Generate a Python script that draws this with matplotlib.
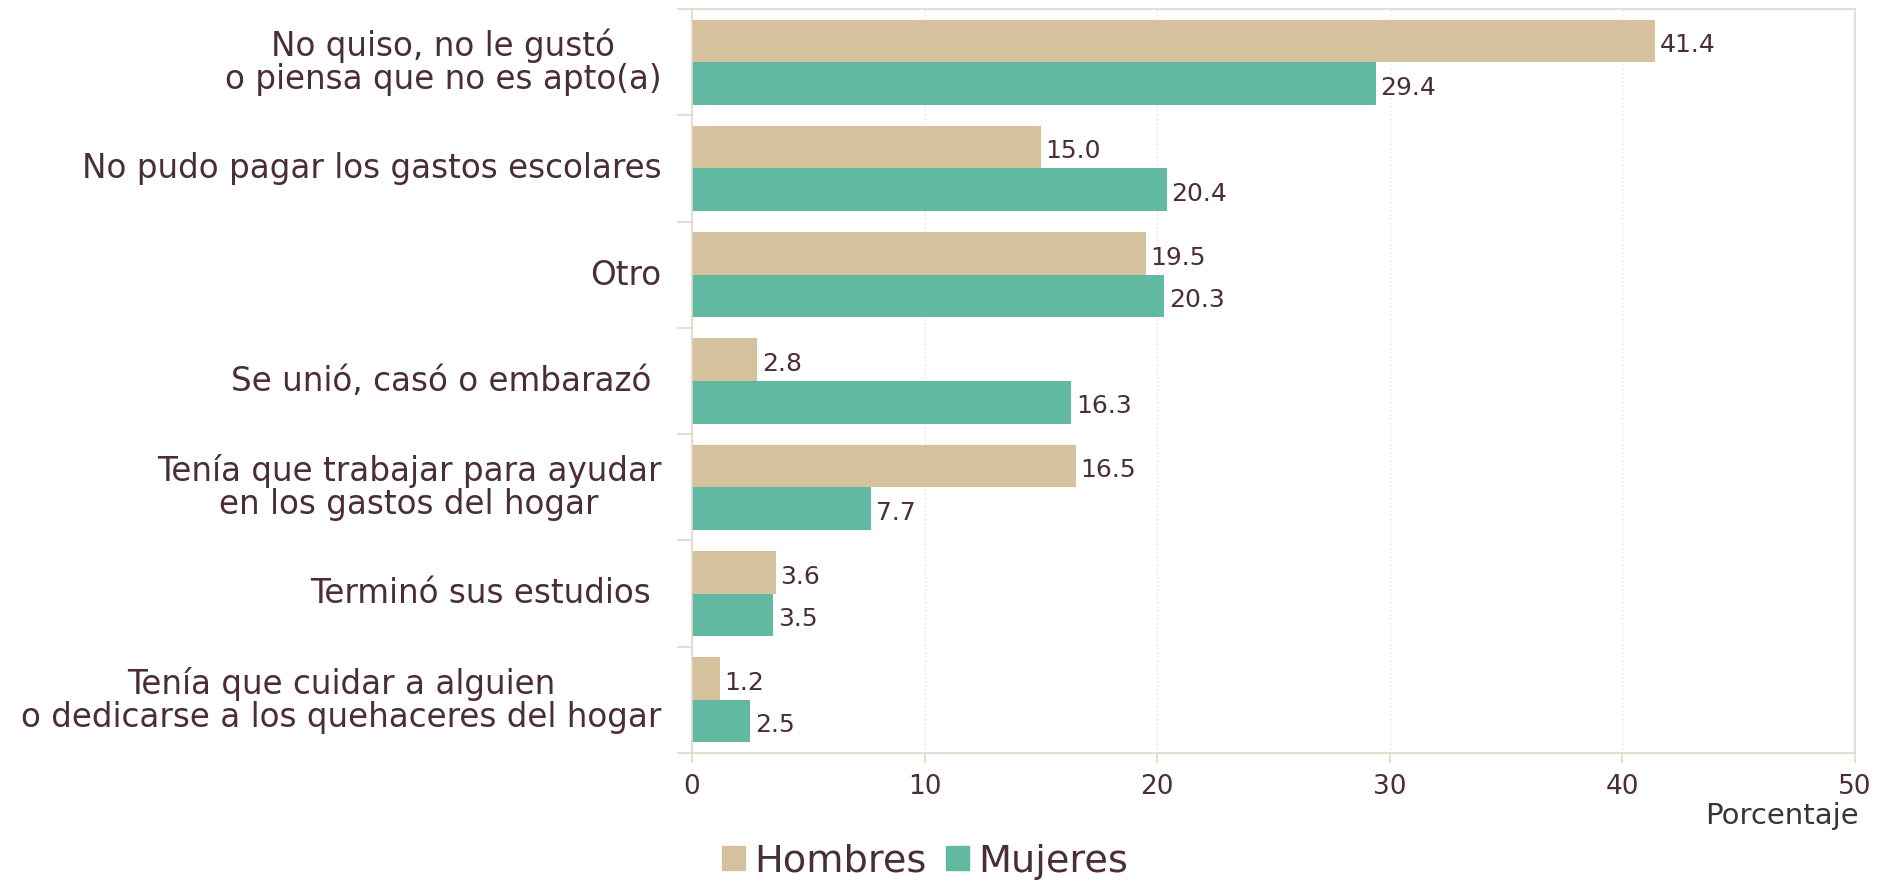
import numpy as np
import matplotlib.pyplot as plt
from matplotlib.patches import Patch

categorias = [
    "No quiso, no le gustó\no piensa que no es apto(a)",
    "No pudo pagar los gastos escolares",
    "Otro",
    "Se unió, casó o embarazó ",
    "Tenía que trabajar para ayudar\nen los gastos del hogar",
    "Terminó sus estudios ",
    "Tenía que cuidar a alguien\no dedicarse a los quehaceres del hogar",
]
hombres = [41.4, 15.0, 19.5, 2.8, 16.5, 3.6, 1.2]
mujeres = [29.4, 20.4, 20.3, 16.3, 7.7, 3.5, 2.5]
xticks = [0, 10, 20, 30, 40, 50]

c_hom = "#d5c29d"
c_muj = "#60b9a0"
c_txt = "#4b2d38"
c_line = "#e2d8c8"

plt.rcParams["font.family"] = ["DejaVu Sans"]

fig = plt.figure(figsize=(18.77, 8.81), dpi=100)
ax = fig.add_axes([0.3687, 0.1453, 0.6196, 0.8445])

y = np.arange(len(categorias))
h = 0.4
b1 = ax.barh(y - h / 2, hombres, height=h, color=c_hom)
b2 = ax.barh(y + h / 2, mujeres, height=h, color=c_muj)

for bars, vals in [(b1, hombres), (b2, mujeres)]:
    for r, v in zip(bars, vals):
        ax.text(v + 0.2, r.get_y() + r.get_height() / 2 + 0.04, f"{v:.1f}",
                va="center", ha="left", fontsize=18, color=c_txt)

ax.set_xlim(0, 50)
ax.set_ylim(len(categorias) - 0.5, -0.5)
ax.set_xticks(xticks)
ax.set_yticks(y - 0.03)
ax.set_yticklabels(categorias, fontsize=23.5, color=c_txt, multialignment="center",
                   linespacing=1.0)
ax.set_yticks(np.arange(len(categorias) + 1) - 0.5, minor=True)
ax.tick_params(axis="y", which="major", length=0, pad=22)
ax.tick_params(axis="y", which="minor", length=11, color=c_line, width=1.2)
ax.tick_params(axis="x", length=7, width=1.2, color=c_line, pad=8,
               labelsize=19, labelcolor=c_txt)

ax.grid(axis="x", color="#e6ddd2", linestyle=(0, (1, 2)), linewidth=1)
ax.set_axisbelow(True)
for s in ax.spines.values():
    s.set_color(c_line)
    s.set_linewidth(1.2)

fig.text(0.9905, 0.058, "Porcentaje", ha="right", va="bottom", fontsize=21, color="#3a3434")

handles = [Patch(color=c_hom), Patch(color=c_muj)]
fig.legend(handles, ["Hombres", "Mujeres"], loc="center", bbox_to_anchor=(0.493, 0.022),
           ncol=2, frameon=False, fontsize=27.5, handlelength=0.6, handleheight=0.6,
           handletextpad=0.25, columnspacing=0.5, labelcolor=c_txt)

fig.savefig("out.png", dpi=100)
